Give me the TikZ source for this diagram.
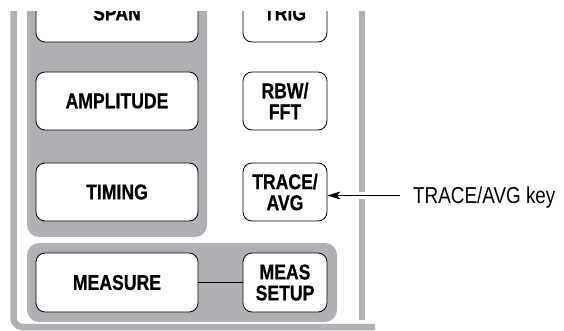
\documentclass[tikz,border=0pt]{standalone}
\usepackage{fontspec}
\setmainfont{Liberation Sans}
\newfontfamily\keyfont{Liberation Sans}[FakeStretch=0.82, BoldFeatures={FakeBold=0.6}]
\usetikzlibrary{arrows.meta}
\definecolor{panelgray}{RGB}{174,176,180}

\begin{document}
\begin{tikzpicture}[
    x=1pt, y=-1pt,
    >=Stealth,
    key/.style={draw, fill=white, rounded corners=9pt, line width=0.8pt, inner sep=0pt, align=center,
                font=\keyfont\fontsize{21.5}{21}\selectfont\bfseries},
    widekey/.style={key, minimum width=162pt, minimum height=58pt},
    smallkey/.style={key, minimum width=84pt, minimum height=58pt},
    panel/.style={fill=panelgray, rounded corners=12pt},
    lbl/.style={font=\keyfont\fontsize{23}{23}\selectfont, text depth=0pt, inner sep=0pt},
]
\useasboundingbox (0,0) rectangle (564,331);
\begin{scope}
  \clip (0,12) rectangle (564,331);
  % ----- the frame round the front panel
  \draw[panelgray, line width=6.5pt, rounded corners=9pt] (13.5,0) -- (13.5,327) -- (375,327);
  \draw[panelgray, line width=6pt] (362,0) -- (362,192);
  \draw[panelgray, line width=6pt] (362,198.5) -- (362,320);
  % ----- the grey key groups
  \fill[panel] (27,-20) rectangle (207,237);
  \fill[panel] (27,243) rectangle (337,322);
  % ----- the keys
  \node[widekey] (span) at (117,13) {SPAN};
  \node[widekey] (amplitude) at (117,101) {AMPLITUDE};
  \node[widekey] (timing) at (117,192) {TIMING};
  \node[widekey, minimum height=59pt] (measure) at (117,282.5) {MEASURE};
  \node[smallkey] (trig) at (285,13) {TRIG};
  \node[smallkey] (rbw) at (285,101) {RBW/\\FFT};
  \node[smallkey] (trace) at (285,192) {TRACE/\\AVG};
  \node[smallkey, minimum height=59pt] (meassetup) at (285,282.5) {MEAS\\SETUP};
  \draw[line width=1.8pt] (measure) -- (meassetup);
\end{scope}
% ----- the callout
\node[lbl, anchor=west] (tracelbl) at (413,195.5) {TRACE/AVG key};
\draw[->, line width=1.1pt, arrows={-Stealth[length=13pt, width=8pt, inset=3.5pt]}]
  ([xshift=-13pt]tracelbl.west) -- (trace.east |- tracelbl.west);
\end{tikzpicture}
\end{document}
